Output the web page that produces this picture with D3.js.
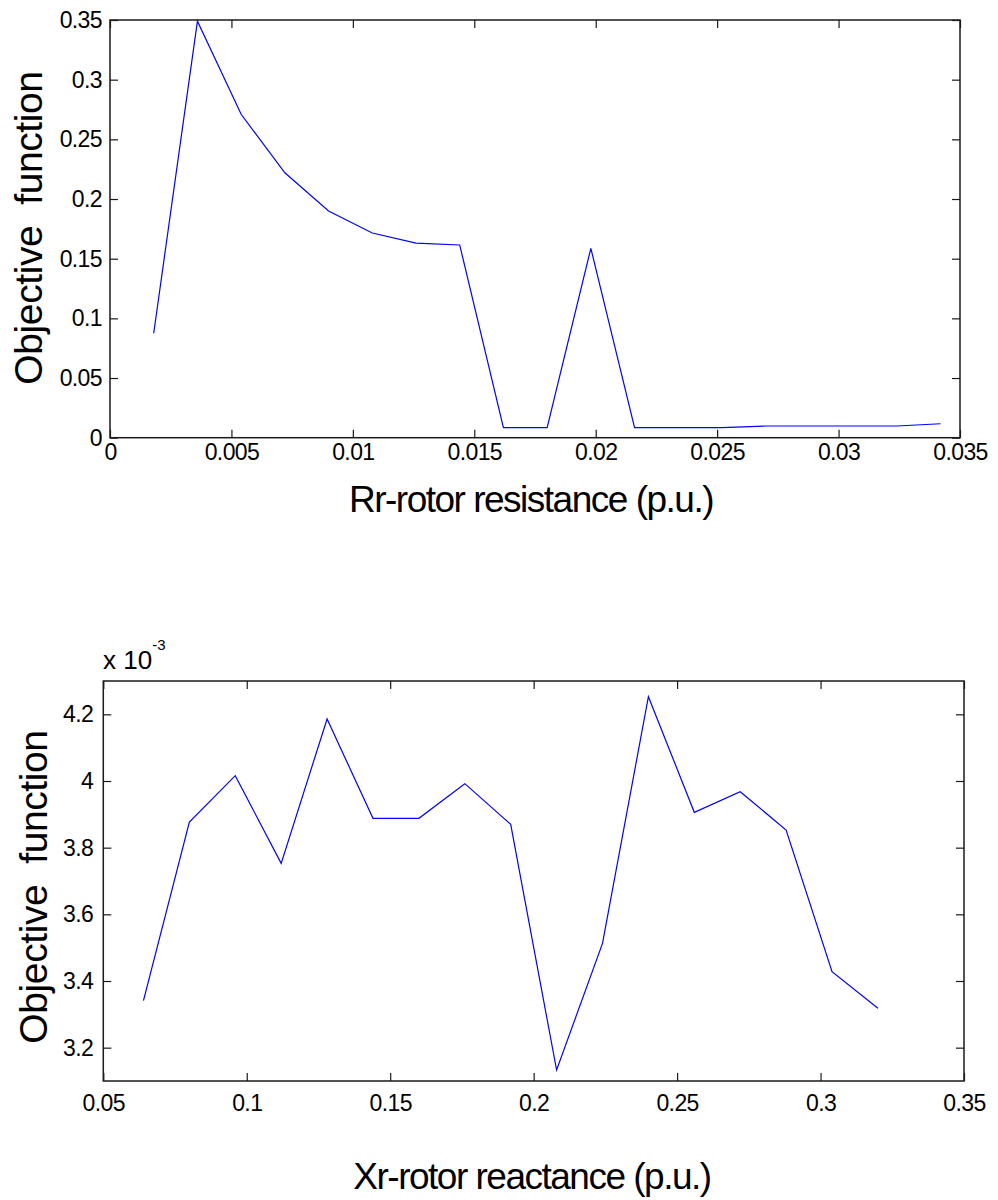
<!DOCTYPE html>
<html>
<head>
<meta charset="utf-8">
<script src="https://cdn.jsdelivr.net/npm/d3@7"></script>
<style>
    body { margin: 0; background: #fff; }
    .axis text { font-family: "Liberation Sans", Arial, sans-serif; font-size: 23px; letter-spacing: -0.6px; fill: #000; }
    .axis line { stroke: #1a1a1a; stroke-width: 1.2; }
    .axis path { display: none; }
    .title { font-family: "Liberation Sans", Arial, sans-serif; fill: #000; white-space: pre; }
</style>
</head>
<body>
<div id="main"></div>
<script>
// top panel: rotor resistance
var rrX = [0.0018, 0.0036, 0.0054, 0.0072, 0.009, 0.0108, 0.0126, 0.0144, 0.0162, 0.018,
    0.0198, 0.0216, 0.0234, 0.0252, 0.027, 0.0288, 0.0306, 0.0324, 0.0342];
var rrY = [0.0875, 0.349, 0.271, 0.222, 0.190, 0.1715, 0.1631, 0.1615, 0.0084, 0.0084,
    0.1587, 0.0084, 0.0084, 0.0084, 0.0098, 0.0098, 0.0098, 0.0098, 0.0117];
var rrXTicks = [0, 0.005, 0.01, 0.015, 0.02, 0.025, 0.03, 0.035];
var rrXLabels = ["0", "0.005", "0.01", "0.015", "0.02", "0.025", "0.03", "0.035"];
var rrYTicks = [0, 0.05, 0.1, 0.15, 0.2, 0.25, 0.3, 0.35];
var rrYLabels = ["0", "0.05", "0.1", "0.15", "0.2", "0.25", "0.3", "0.35"];

// bottom panel: rotor reactance
var xrX = [0.064, 0.08, 0.096, 0.112, 0.128, 0.144, 0.16, 0.176, 0.192, 0.208,
    0.224, 0.24, 0.256, 0.272, 0.288, 0.304, 0.32];
var xrY = [0.003341, 0.003877, 0.004016, 0.003753, 0.004186, 0.003888, 0.003888, 0.003992, 0.003870,
    0.003133, 0.003513, 0.004253, 0.003906, 0.003968, 0.003853, 0.003428, 0.003318];
var xrXTicks = [0.05, 0.1, 0.15, 0.2, 0.25, 0.3, 0.35];
var xrXLabels = ["0.05", "0.1", "0.15", "0.2", "0.25", "0.3", "0.35"];
var xrYTicks = [0.0032, 0.0034, 0.0036, 0.0038, 0.004, 0.0042];
var xrYLabels = ["3.2", "3.4", "3.6", "3.8", "4", "4.2"];

var svg = d3.select('#main').append('svg')
    .attr('width', 998).attr('height', 1200);

function drawPanel(p) {
    var xScale = d3.scaleLinear().domain(p.xDomain).range([p.left, p.right]);
    var yScale = d3.scaleLinear().domain(p.yDomain).range([p.bottom, p.top]);
    var g = svg.append('g');

    // ticks point inward on all four sides, labels only bottom/left
    g.append('g').attr('class', 'axis')
        .attr('transform', 'translate(0,' + p.bottom + ')')
        .call(d3.axisBottom(xScale).tickValues(p.xTicks).tickSize(-8).tickPadding(p.xPad)
            .tickFormat(function (d, i) { return p.xLabels[i]; }));
    g.append('g').attr('class', 'axis')
        .attr('transform', 'translate(0,' + p.top + ')')
        .call(d3.axisTop(xScale).tickValues(p.xTicks).tickSize(-8).tickFormat(''));
    g.append('g').attr('class', 'axis')
        .attr('transform', 'translate(' + p.left + ',0)')
        .call(d3.axisLeft(yScale).tickValues(p.yTicks).tickSize(-8).tickPadding(p.yPad)
            .tickFormat(function (d, i) { return p.yLabels[i]; }));
    g.append('g').attr('class', 'axis')
        .attr('transform', 'translate(' + p.right + ',0)')
        .call(d3.axisRight(yScale).tickValues(p.yTicks).tickSize(-8).tickFormat(''));

    g.append('rect')
        .attr('x', p.left).attr('y', p.top)
        .attr('width', p.right - p.left).attr('height', p.bottom - p.top)
        .attr('fill', 'none').attr('stroke', '#1a1a1a').attr('stroke-width', 1.5);

    var line = d3.line()
        .x(function (d) { return xScale(d[0]); })
        .y(function (d) { return yScale(d[1]); });
    g.append('path')
        .datum(d3.zip(p.xs, p.ys))
        .attr('d', line)
        .attr('fill', 'none')
        .attr('stroke', '#0000ff')
        .attr('stroke-width', 1.2);

    g.append('text').attr('class', 'title')
        .attr('x', p.xTitlePos[0]).attr('y', p.xTitlePos[1])
        .attr('text-anchor', 'middle')
        .style('font-size', '37px').style('letter-spacing', '-1.5px')
        .text(p.xTitle);

    g.append('text').attr('class', 'title')
        .attr('transform', 'translate(' + p.yTitlePos[0] + ',' + p.yTitlePos[1] + ') rotate(-90)')
        .attr('text-anchor', 'middle')
        .style('font-size', '39px').style('letter-spacing', '-0.4px')
        .text('Objective  function');
}

drawPanel({
    left: 110, right: 960, top: 20, bottom: 437.7,
    xDomain: [0, 0.035], yDomain: [0, 0.35],
    xTicks: rrXTicks, xLabels: rrXLabels, yTicks: rrYTicks, yLabels: rrYLabels,
    xPad: 6, yPad: 8,
    xs: rrX, ys: rrY,
    xTitle: 'Rr-rotor resistance (p.u.)', xTitlePos: [531, 511.7],
    yTitlePos: [42, 228]
});

drawPanel({
    left: 103.3, right: 964, top: 681, bottom: 1081,
    xDomain: [0.05, 0.35], yDomain: [0.0031, 0.0043],
    xTicks: xrXTicks, xLabels: xrXLabels, yTicks: xrYTicks, yLabels: xrYLabels,
    xPad: 14, yPad: 10,
    xs: xrX, ys: xrY,
    xTitle: 'Xr-rotor reactance (p.u.)', xTitlePos: [532, 1189],
    yTitlePos: [47, 887]
});

// exponent note above the bottom panel
var expo = svg.append('text').attr('class', 'title')
    .attr('x', 103).attr('y', 669)
    .style('font-size', '26px');
expo.append('tspan').text('x 10');
expo.append('tspan').attr('dy', -19).style('font-size', '15px').text('-3');
</script>
</body>
</html>
